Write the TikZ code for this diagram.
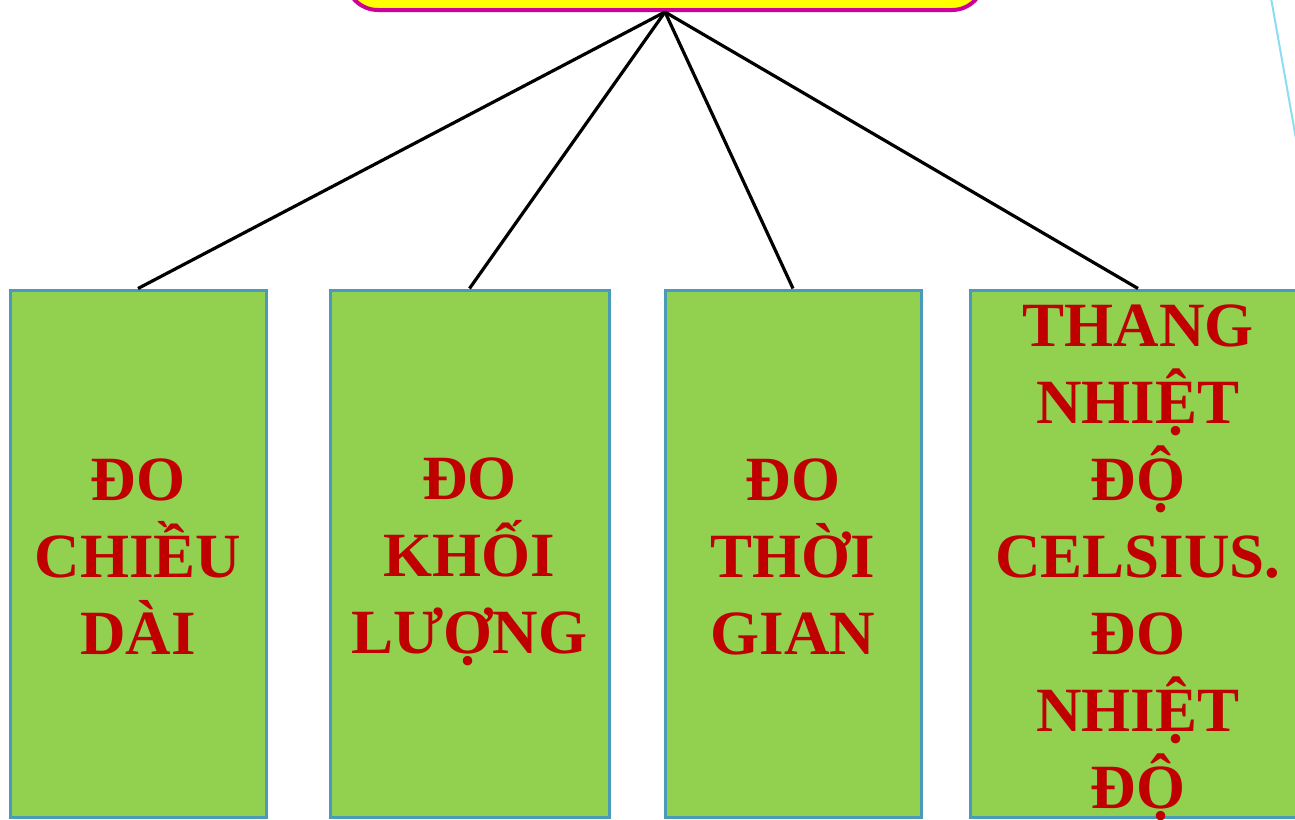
\documentclass[tikz,border=0pt]{standalone}
\usepackage{fontspec}
\setmainfont{Liberation Serif}
\definecolor{boxgreen}{HTML}{92D050}
\definecolor{boxblue}{HTML}{4A9BBA}
\definecolor{txtred}{HTML}{C00000}
\definecolor{topyellow}{HTML}{FFFF00}
\definecolor{topmag}{HTML}{CC0099}
\definecolor{lightblue}{HTML}{8CDCF2}
\tikzset{
  greenbox/.style={draw=boxblue, line width=3pt, fill=boxgreen, rectangle, inner sep=0pt},
  boxtext/.style={text=txtred, font=\bfseries\fontsize{63}{77}\selectfont, align=center, inner sep=0pt},
  link/.style={draw=black, line width=3.2pt},
}
\begin{document}
\begin{tikzpicture}[x=1pt,y=-1pt]
\useasboundingbox (0,0) rectangle (1295,819);
\clip (0,0) rectangle (1295,819);
% top box
\node[draw=topmag, line width=4pt, fill=topyellow, rounded corners=32pt, minimum width=638pt, minimum height=100pt, inner sep=0pt] (top) at (665,-40) {};
% stray light blue line
\coordinate (lb1) at (1271,-2);
\coordinate (lb2) at (1298,150);
\draw[lightblue, line width=2pt] (lb1) -- (lb2);
% green boxes
\node[greenbox, minimum width=256pt, minimum height=527pt] (b1) at (138,553.5) {};
\node[greenbox, minimum width=279pt, minimum height=527pt] (b2) at (469.5,553.5) {};
\node[greenbox, minimum width=256pt, minimum height=527pt] (b3) at (793,553.5) {};
\node[greenbox, minimum width=336pt, minimum height=527pt] (b4) at (1138,553.5) {};
% texts
\node[boxtext] (t1) at (138,557) {ĐO\\CHIỀU\\DÀI};
\node[boxtext] (t2) at (469.5,562) {ĐO\\KHỐI\\LƯỢNG};
\node[boxtext] (t3) at (793,557) {ĐO\\THỜI\\GIAN};
\node[boxtext] (t4) at (1138,563) {THANG\\NHIỆT\\ĐỘ\\CELSIUS.\\ĐO\\NHIỆT\\ĐỘ};
% connectors
\draw[link] (top.south) -- (b1.north);
\draw[link] (top.south) -- (b2.north);
\draw[link] (top.south) -- (b3.north);
\draw[link] (top.south) -- (b4.north);
\end{tikzpicture}
\end{document}
